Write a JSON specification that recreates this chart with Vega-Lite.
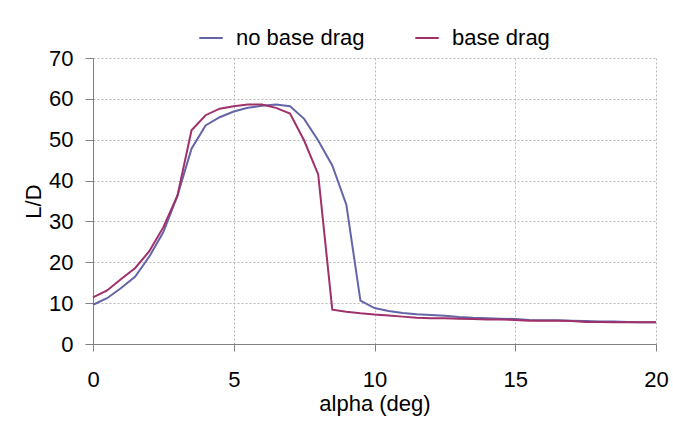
{
  "$schema": "https://vega.github.io/schema/vega-lite/v6.json",
  "autosize": {"type": "none"},
  "width": 563,
  "height": 286,
  "padding": {"left": 93, "top": 58, "right": 17, "bottom": 81},
  "background": "white",
  "config": {
    "font": "Liberation Sans",
    "view": {"stroke": null},
    "axis": {
      "labelFont": "Liberation Sans",
      "titleFont": "Liberation Sans",
      "labelFontSize": 22,
      "titleFontSize": 22,
      "labelColor": "#000000",
      "titleColor": "#000000",
      "titleFontWeight": "normal",
      "domainColor": "#808080",
      "tickColor": "#808080",
      "gridColor": "#b8b8b8",
      "gridDash": [2, 2],
      "gridWidth": 1
    },
    "legend": {
      "labelFont": "Liberation Sans",
      "labelFontSize": 22,
      "labelColor": "#000000"
    }
  },
  "data": {
    "values": [
      {"alpha": 0, "LD": 9.6, "series": "no base drag"},
      {"alpha": 0.5, "LD": 11.2, "series": "no base drag"},
      {"alpha": 1, "LD": 13.7, "series": "no base drag"},
      {"alpha": 1.5, "LD": 16.5, "series": "no base drag"},
      {"alpha": 2, "LD": 21.4, "series": "no base drag"},
      {"alpha": 2.5, "LD": 27.4, "series": "no base drag"},
      {"alpha": 3, "LD": 36.3, "series": "no base drag"},
      {"alpha": 3.5, "LD": 47.8, "series": "no base drag"},
      {"alpha": 4, "LD": 53.5, "series": "no base drag"},
      {"alpha": 4.5, "LD": 55.5, "series": "no base drag"},
      {"alpha": 5, "LD": 56.9, "series": "no base drag"},
      {"alpha": 5.5, "LD": 57.8, "series": "no base drag"},
      {"alpha": 6, "LD": 58.3, "series": "no base drag"},
      {"alpha": 6.5, "LD": 58.6, "series": "no base drag"},
      {"alpha": 7, "LD": 58.2, "series": "no base drag"},
      {"alpha": 7.5, "LD": 55.1, "series": "no base drag"},
      {"alpha": 8, "LD": 49.8, "series": "no base drag"},
      {"alpha": 8.5, "LD": 43.7, "series": "no base drag"},
      {"alpha": 9, "LD": 34.1, "series": "no base drag"},
      {"alpha": 9.5, "LD": 10.6, "series": "no base drag"},
      {"alpha": 10, "LD": 8.8, "series": "no base drag"},
      {"alpha": 10.5, "LD": 8.1, "series": "no base drag"},
      {"alpha": 11, "LD": 7.6, "series": "no base drag"},
      {"alpha": 11.5, "LD": 7.3, "series": "no base drag"},
      {"alpha": 12, "LD": 7.1, "series": "no base drag"},
      {"alpha": 12.5, "LD": 6.9, "series": "no base drag"},
      {"alpha": 13, "LD": 6.6, "series": "no base drag"},
      {"alpha": 13.5, "LD": 6.4, "series": "no base drag"},
      {"alpha": 14, "LD": 6.3, "series": "no base drag"},
      {"alpha": 14.5, "LD": 6.2, "series": "no base drag"},
      {"alpha": 15, "LD": 6.1, "series": "no base drag"},
      {"alpha": 15.5, "LD": 5.9, "series": "no base drag"},
      {"alpha": 16, "LD": 5.8, "series": "no base drag"},
      {"alpha": 16.5, "LD": 5.8, "series": "no base drag"},
      {"alpha": 17, "LD": 5.7, "series": "no base drag"},
      {"alpha": 17.5, "LD": 5.6, "series": "no base drag"},
      {"alpha": 18, "LD": 5.5, "series": "no base drag"},
      {"alpha": 18.5, "LD": 5.5, "series": "no base drag"},
      {"alpha": 19, "LD": 5.4, "series": "no base drag"},
      {"alpha": 19.5, "LD": 5.3, "series": "no base drag"},
      {"alpha": 20, "LD": 5.3, "series": "no base drag"},
      {"alpha": 0, "LD": 11.4, "series": "base drag"},
      {"alpha": 0.5, "LD": 13.1, "series": "base drag"},
      {"alpha": 1, "LD": 15.9, "series": "base drag"},
      {"alpha": 1.5, "LD": 18.6, "series": "base drag"},
      {"alpha": 2, "LD": 22.7, "series": "base drag"},
      {"alpha": 2.5, "LD": 28.6, "series": "base drag"},
      {"alpha": 3, "LD": 36.3, "series": "base drag"},
      {"alpha": 3.5, "LD": 52.3, "series": "base drag"},
      {"alpha": 4, "LD": 56.0, "series": "base drag"},
      {"alpha": 4.5, "LD": 57.6, "series": "base drag"},
      {"alpha": 5, "LD": 58.2, "series": "base drag"},
      {"alpha": 5.5, "LD": 58.6, "series": "base drag"},
      {"alpha": 6, "LD": 58.6, "series": "base drag"},
      {"alpha": 6.5, "LD": 57.8, "series": "base drag"},
      {"alpha": 7, "LD": 56.4, "series": "base drag"},
      {"alpha": 7.5, "LD": 49.8, "series": "base drag"},
      {"alpha": 8, "LD": 41.5, "series": "base drag"},
      {"alpha": 8.5, "LD": 8.4, "series": "base drag"},
      {"alpha": 9, "LD": 7.9, "series": "base drag"},
      {"alpha": 9.5, "LD": 7.5, "series": "base drag"},
      {"alpha": 10, "LD": 7.2, "series": "base drag"},
      {"alpha": 10.5, "LD": 7.0, "series": "base drag"},
      {"alpha": 11, "LD": 6.7, "series": "base drag"},
      {"alpha": 11.5, "LD": 6.4, "series": "base drag"},
      {"alpha": 12, "LD": 6.3, "series": "base drag"},
      {"alpha": 12.5, "LD": 6.3, "series": "base drag"},
      {"alpha": 13, "LD": 6.2, "series": "base drag"},
      {"alpha": 13.5, "LD": 6.1, "series": "base drag"},
      {"alpha": 14, "LD": 6.0, "series": "base drag"},
      {"alpha": 14.5, "LD": 6.0, "series": "base drag"},
      {"alpha": 15, "LD": 5.9, "series": "base drag"},
      {"alpha": 15.5, "LD": 5.7, "series": "base drag"},
      {"alpha": 16, "LD": 5.7, "series": "base drag"},
      {"alpha": 16.5, "LD": 5.7, "series": "base drag"},
      {"alpha": 17, "LD": 5.6, "series": "base drag"},
      {"alpha": 17.5, "LD": 5.4, "series": "base drag"},
      {"alpha": 18, "LD": 5.4, "series": "base drag"},
      {"alpha": 18.5, "LD": 5.3, "series": "base drag"},
      {"alpha": 19, "LD": 5.3, "series": "base drag"},
      {"alpha": 19.5, "LD": 5.3, "series": "base drag"},
      {"alpha": 20, "LD": 5.3, "series": "base drag"}
    ]
  },
  "mark": {"type": "line", "strokeWidth": 2},
  "encoding": {
    "x": {
      "field": "alpha",
      "type": "quantitative",
      "scale": {"domain": [0, 20], "nice": false, "zero": true},
      "axis": {
        "title": "alpha (deg)",
        "values": [0, 5, 10, 15, 20],
        "tickSize": 7,
        "labelPadding": 18,
        "titlePadding": 3,
        "labelFlush": false
      }
    },
    "y": {
      "field": "LD",
      "type": "quantitative",
      "scale": {"domain": [0, 70], "nice": false},
      "axis": {
        "title": "L/D",
        "values": [0, 10, 20, 30, 40, 50, 60, 70],
        "tickSize": 8,
        "labelPadding": 12,
        "titlePadding": 3,
        "labelFlush": false
      }
    },
    "color": {
      "field": "series",
      "type": "nominal",
      "scale": {"domain": ["no base drag", "base drag"], "range": ["#6464a8", "#a0306a"]},
      "legend": {
        "title": null,
        "orient": "none",
        "direction": "horizontal",
        "legendX": 105,
        "legendY": -33,
        "symbolType": "stroke",
        "symbolSize": 550,
        "symbolStrokeWidth": 2,
        "labelOffset": 12,
        "columnPadding": 46
      }
    }
  }
}
